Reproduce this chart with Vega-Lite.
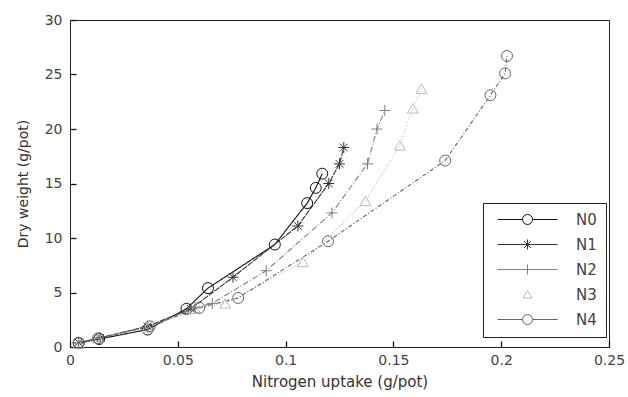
{
  "$schema": "https://vega.github.io/schema/vega-lite/v6.json",
  "width": 539,
  "height": 327,
  "autosize": {"type": "none"},
  "padding": {"left": 70, "top": 20, "right": 19, "bottom": 50},
  "background": "white",
  "config": {
    "view": {"stroke": "#222", "strokeWidth": 1},
    "font": "DejaVu Sans",
    "axis": {
      "labelFont": "DejaVu Sans",
      "labelFontSize": 14,
      "labelColor": "#444",
      "titleFont": "DejaVu Sans",
      "titleFontSize": 15,
      "titleFontWeight": "normal",
      "titleColor": "#333"
    }
  },
  "data": {
    "values": [
      {"series": "N0", "mk": "N0", "uptake": 0.004, "dw": 0.35},
      {"series": "N0", "mk": "N0", "uptake": 0.0135, "dw": 0.73},
      {"series": "N0", "mk": "N0", "uptake": 0.036, "dw": 1.6},
      {"series": "N0", "mk": "N0", "uptake": 0.054, "dw": 3.5},
      {"series": "N0", "mk": "N0", "uptake": 0.064, "dw": 5.4},
      {"series": "N0", "mk": "N0", "uptake": 0.095, "dw": 9.4},
      {"series": "N0", "mk": "N0", "uptake": 0.110, "dw": 13.2},
      {"series": "N0", "mk": "N0", "uptake": 0.114, "dw": 14.6},
      {"series": "N0", "mk": "N0", "uptake": 0.117, "dw": 15.9},
      {"series": "N1", "mk": "N1", "uptake": 0.004, "dw": 0.4},
      {"series": "N1", "mk": "N1", "uptake": 0.014, "dw": 0.85},
      {"series": "N1", "mk": "N1", "uptake": 0.036, "dw": 1.9},
      {"series": "N1", "mk": "N1", "uptake": 0.056, "dw": 3.5},
      {"series": "N1", "mk": "N1", "uptake": 0.0756, "dw": 6.4},
      {"series": "N1", "mk": "N1", "uptake": 0.1057, "dw": 11.1},
      {"series": "N1", "mk": "N1", "uptake": 0.120, "dw": 15.0},
      {"series": "N1", "mk": "N1", "uptake": 0.125, "dw": 16.8},
      {"series": "N1", "mk": "N1", "uptake": 0.127, "dw": 18.3},
      {"series": "N2", "mk": "N2", "uptake": 0.004, "dw": 0.35},
      {"series": "N2", "mk": "N2", "uptake": 0.013, "dw": 0.8},
      {"series": "N2", "mk": "N2", "uptake": 0.036, "dw": 1.8},
      {"series": "N2", "mk": "N2", "uptake": 0.058, "dw": 3.6},
      {"series": "N2", "mk": "N2", "uptake": 0.066, "dw": 4.0},
      {"series": "N2", "mk": "N2", "uptake": 0.091, "dw": 7.0},
      {"series": "N2", "mk": "N2", "uptake": 0.1215, "dw": 12.3},
      {"series": "N2", "mk": "N2", "uptake": 0.138, "dw": 16.8},
      {"series": "N2", "mk": "N2", "uptake": 0.1424, "dw": 20.0},
      {"series": "N2", "mk": "N2", "uptake": 0.146, "dw": 21.7},
      {"series": "N3", "mk": "N3", "uptake": 0.004, "dw": 0.3},
      {"series": "N3", "mk": "N3", "uptake": 0.013, "dw": 0.8},
      {"series": "N3", "mk": "N3", "uptake": 0.036, "dw": 1.8},
      {"series": "N3", "mk": "N3", "uptake": 0.058, "dw": 3.5},
      {"series": "N3", "mk": "N3", "uptake": 0.072, "dw": 4.0},
      {"series": "N3", "mk": "N3", "uptake": 0.108, "dw": 7.8},
      {"series": "N3", "mk": "N3", "uptake": 0.137, "dw": 13.4},
      {"series": "N3", "mk": "N3", "uptake": 0.153, "dw": 18.5},
      {"series": "N3", "mk": "N3", "uptake": 0.159, "dw": 21.9},
      {"series": "N3", "mk": "N3", "uptake": 0.163, "dw": 23.7},
      {"series": "N4", "mk": "N4", "uptake": 0.004, "dw": 0.4},
      {"series": "N4", "mk": "N4", "uptake": 0.013, "dw": 0.8},
      {"series": "N4", "mk": "N4", "uptake": 0.037, "dw": 1.9},
      {"series": "N4", "mk": "N4", "uptake": 0.060, "dw": 3.6},
      {"series": "N4", "mk": "N4", "uptake": 0.078, "dw": 4.5},
      {"series": "N4", "mk": "N4", "uptake": 0.1197, "dw": 9.7},
      {"series": "N4", "mk": "N4", "uptake": 0.174, "dw": 17.1},
      {"series": "N4", "mk": "N4", "uptake": 0.195, "dw": 23.1},
      {"series": "N4", "mk": "N4", "uptake": 0.2018, "dw": 25.1},
      {"series": "N4", "mk": "N4", "uptake": 0.2027, "dw": 26.7}
    ]
  },
  "layer": [
    {
      "mark": {"type": "line", "strokeWidth": 1.1},
      "encoding": {
        "x": {
          "field": "uptake", "type": "quantitative",
          "scale": {"domain": [0, 0.25], "nice": false, "zero": false},
          "axis": {"values": [0, 0.05, 0.1, 0.15, 0.2, 0.25], "format": "~g", "title": "Nitrogen uptake (g/pot)", "ticks": true, "tickSize": 6, "tickColor": "#111", "tickWidth": 1.3, "offset": -6, "domain": false, "grid": false, "labelPadding": 6, "titlePadding": 7, "labelFlush": false, "labelOverlap": false, "labelBound": false}
        },
        "y": {
          "field": "dw", "type": "quantitative",
          "scale": {"domain": [0, 30], "nice": false, "zero": false},
          "axis": {"values": [0, 5, 10, 15, 20, 25, 30], "format": "~g", "title": "Dry weight (g/pot)", "titleFontSize": 14, "ticks": true, "tickSize": 6, "tickColor": "#111", "tickWidth": 1.3, "offset": -6, "domain": false, "grid": false, "labelPadding": 8, "titlePadding": 14, "labelFlush": false, "labelOverlap": false, "labelBound": false}
        },
        "color": {
          "field": "series", "type": "nominal",
          "scale": {"domain": ["N0", "N1", "N2", "N3", "N4"], "range": ["#111111", "#333333", "#808080", "#bbbbbb", "#666666"]},
          "legend": {
            "title": null,
            "orient": "none",
            "legendX": 413,
            "legendY": 183,
            "strokeColor": "#222",
            "fillColor": "white",
            "padding": 9,
            "symbolType": "M-6,0H6M0,-1V1",
            "symbolSize": 100,
            "symbolOffset": 28,
            "symbolStrokeWidth": 1,
            "symbolFillColor": "transparent",
            "labelFont": "DejaVu Sans",
            "labelFontSize": 15,
            "labelColor": "#444",
            "labelOffset": 41,
            "rowPadding": 9,
            "offset": 0,
            "encode": {
              "symbols": {
                "update": {
                  "shape": {"signal": "datum.value === 'N0' ? 'M-6,0H-1M1,0H6M-1,0A1,1 0 1,0 1,0A1,1 0 1,0 -1,0' : datum.value === 'N1' ? 'M-6,0H6M0,-1V1M-0.7,-0.7L0.7,0.7M-0.7,0.7L0.7,-0.7' : datum.value === 'N2' ? 'M-6,0H6M0,-1V1' : datum.value === 'N3' ? 'M-0.9,0.7L0,-0.8L0.9,0.7Z' : 'M-6,0H-1M1,0H6M-1,0A1,1 0 1,0 1,0A1,1 0 1,0 -1,0'"},
                  "fill": {"value": "transparent"}
                }
              }
            }
          }
        },
        "strokeDash": {
          "field": "mk", "type": "nominal",
          "scale": {"range": [[1, 0], [6, 1], [6, 2, 1, 2], [1, 2], [4, 2, 1, 2]]},
          "legend": null
        }
      }
    },
    {
      "mark": {"type": "point", "filled": false, "strokeWidth": 1, "size": 120, "opacity": 1},
      "encoding": {
        "x": {"field": "uptake", "type": "quantitative"},
        "y": {"field": "dw", "type": "quantitative"},
        "color": {"field": "series", "type": "nominal"},
        "shape": {
          "field": "mk", "type": "nominal",
          "scale": {"range": ["circle", "M-1,0H1M0,-1V1M-0.7,-0.7L0.7,0.7M-0.7,0.7L0.7,-0.7", "M-1,0H1M0,-1V1", "triangle-up", "circle"]},
          "legend": null
        }
      }
    }
  ]
}
